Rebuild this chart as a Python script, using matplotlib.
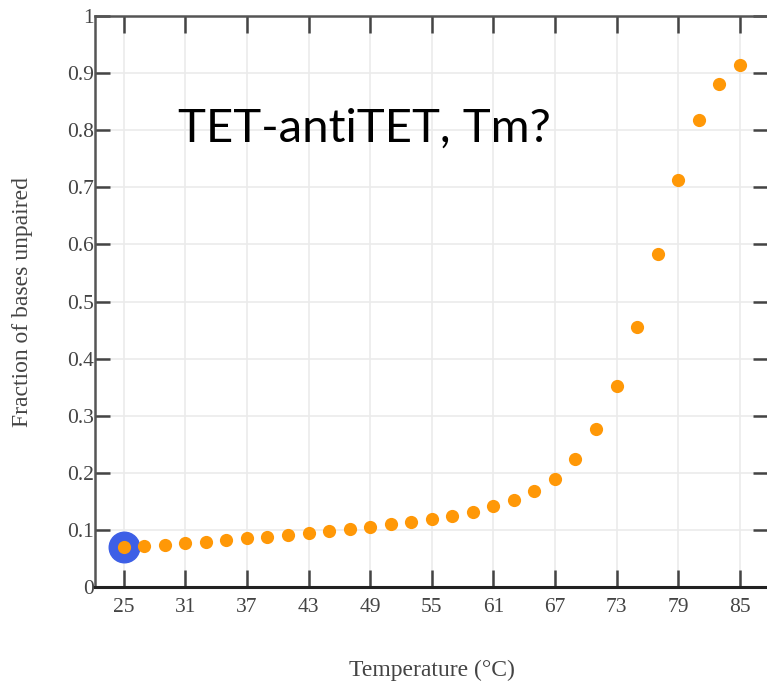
import matplotlib as mpl
import matplotlib.pyplot as plt

# melting curve data
temps = [25, 27, 29, 31, 33, 35, 37, 39, 41, 43, 45, 47, 49, 51, 53, 55,
         57, 59, 61, 63, 65, 67, 69, 71, 73, 75, 77, 79, 81, 83, 85]
unpaired = [0.070, 0.072, 0.074, 0.077, 0.079, 0.082, 0.085, 0.088, 0.091,
            0.094, 0.098, 0.101, 0.105, 0.110, 0.114, 0.119, 0.124, 0.132,
            0.142, 0.153, 0.168, 0.190, 0.225, 0.277, 0.352, 0.455, 0.583,
            0.713, 0.817, 0.881, 0.914]
x_ticks = [25, 31, 37, 43, 49, 55, 61, 67, 73, 79, 85]
y_ticks = [0, 0.1, 0.2, 0.3, 0.4, 0.5, 0.6, 0.7, 0.8, 0.9, 1]
y_labels = ['0', '0.1', '0.2', '0.3', '0.4', '0.5', '0.6', '0.7', '0.8', '0.9', '1']
highlight = (25, 0.070)

mpl.rcParams.update({'font.family': 'Liberation Serif'})

fig = plt.figure(figsize=(7.67, 6.84), dpi=100)
ax = fig.add_axes([0.1239, 0.1418, 0.878, 0.8348])

ax.grid(color='#ebebeb', linewidth=1.2)
ax.set_axisbelow(True)

ax.plot(highlight[0], highlight[1], 'o', color='#3d5fe6', markersize=22,
        zorder=2)
ax.plot(temps, unpaired, 'o', color='#ff9807', markersize=9.5,
        markeredgewidth=0, zorder=3)

ax.set_xlim(22.2, 87.8)
ax.set_ylim(0, 1)
ax.set_xticks(x_ticks)
ax.set_yticks(y_ticks)
ax.set_yticklabels(y_labels)

ax.tick_params(axis='both', direction='in', top=True, right=True,
               labelsize=15.5, labelcolor='#444444', color='#444444', width=1.8)
ax.tick_params(axis='x', length=12, pad=8)
ax.tick_params(axis='y', length=11, pad=1)

for side in ['left', 'top', 'right']:
    ax.spines[side].set_color('#555555')
    ax.spines[side].set_linewidth(1.8)
ax.spines['bottom'].set_color('#222222')
ax.spines['bottom'].set_linewidth(2.2)

ax.set_xlabel('Temperature (°C)', fontsize=17, color='#444444', labelpad=31)
ax.set_ylabel('Fraction of bases unpaired', fontsize=17, color='#444444',
              labelpad=24)

ax.text(0.123, 0.802, 'TET-antiTET, Tm?', transform=ax.transAxes,
        fontsize=34, family='Lato', color='black', va='center')

fig.savefig('out.png', dpi=100)
